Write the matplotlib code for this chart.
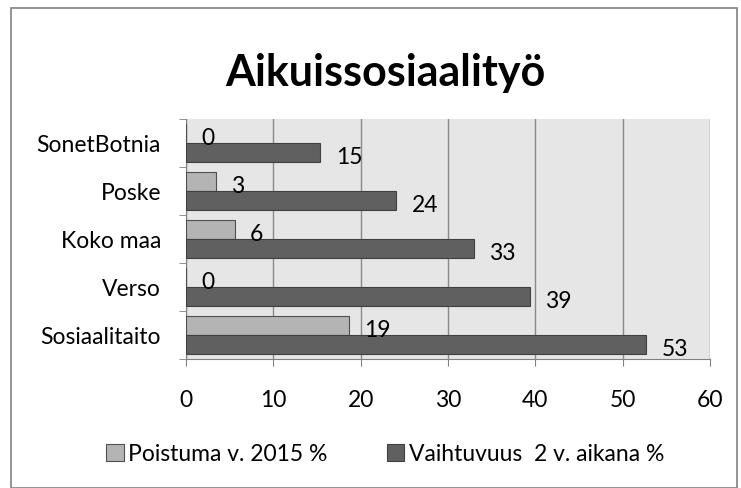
import numpy as np
import matplotlib.pyplot as plt
from matplotlib.patches import Rectangle

plt.rcParams['font.family'] = ['Lato', 'DejaVu Sans']

categories = ['SonetBotnia', 'Poske', 'Koko maa', 'Verso', 'Sosiaalitaito']
poistuma = [0, 3.4, 5.6, 0, 18.7]        # Poistuma v. 2015 %
vaihtuvuus = [15.4, 24.1, 33.0, 39.4, 52.7]  # Vaihtuvuus 2 v. aikana %
xticks = [0, 10, 20, 30, 40, 50, 60]

light = '#b4b4b4'
dark = '#606060'

fig = plt.figure(figsize=(7.41, 4.89), dpi=100)
ax = fig.add_axes([0.251, 0.264, 0.707, 0.491])

y = np.arange(len(categories))
h = 0.4
b1 = ax.barh(y - h / 2, poistuma, height=h, color=light, edgecolor='#505050',
             linewidth=0.8, label='Poistuma v. 2015 %', zorder=3)
b2 = ax.barh(y + h / 2, vaihtuvuus, height=h, color=dark, edgecolor='#404040',
             linewidth=0.8, label='Vaihtuvuus  2 v. aikana %', zorder=3)

for bars, vals in [(b1, poistuma), (b2, vaihtuvuus)]:
    for bar, v in zip(bars, vals):
        ax.annotate(f'{v:.0f}', (bar.get_width(), bar.get_y() + bar.get_height() / 2),
                    xytext=(11, -3), textcoords='offset points',
                    ha='left', va='center', fontsize=16.5, zorder=4)

ax.set_xlim(0, 60)
ax.set_ylim(len(categories) - 0.5, -0.5)
ax.set_xticks(xticks)
ax.set_xticklabels([str(t) for t in xticks], fontsize=16.5)
ax.set_yticks(y)
ax.set_yticklabels(categories, fontsize=16.5)
ax.set_yticks(np.arange(len(categories) + 1) - 0.5, minor=True)
ax.tick_params(axis='y', which='major', length=0, pad=18)
ax.tick_params(axis='y', which='minor', length=5, color='#808080')
ax.tick_params(axis='x', length=5, color='#808080', pad=17)

ax.set_facecolor('#e6e6e6')
ax.grid(axis='x', color='#8a8a8a', linewidth=1, zorder=0)
ax.set_axisbelow(True)
for s in ['top', 'right']:
    ax.spines[s].set_visible(False)
ax.spines['left'].set_color('#808080')
ax.spines['bottom'].set_color('#808080')

fig.text(0.52, 0.85, 'Aikuissosiaalityö', ha='center', va='center',
         fontsize=31, fontweight='bold')

fig.legend(handles=[b1, b2], loc='center', bbox_to_anchor=(0.52, 0.07),
           ncol=2, frameon=False, fontsize=16.5, handlelength=0.75,
           handleheight=0.75, handletextpad=0.2, columnspacing=2.6)

fig.patches.append(Rectangle((0.015, 0.0), 0.98, 0.982, transform=fig.transFigure,
                             fill=False, edgecolor='#808080', linewidth=1.2))

fig.savefig('out.png', dpi=100)
